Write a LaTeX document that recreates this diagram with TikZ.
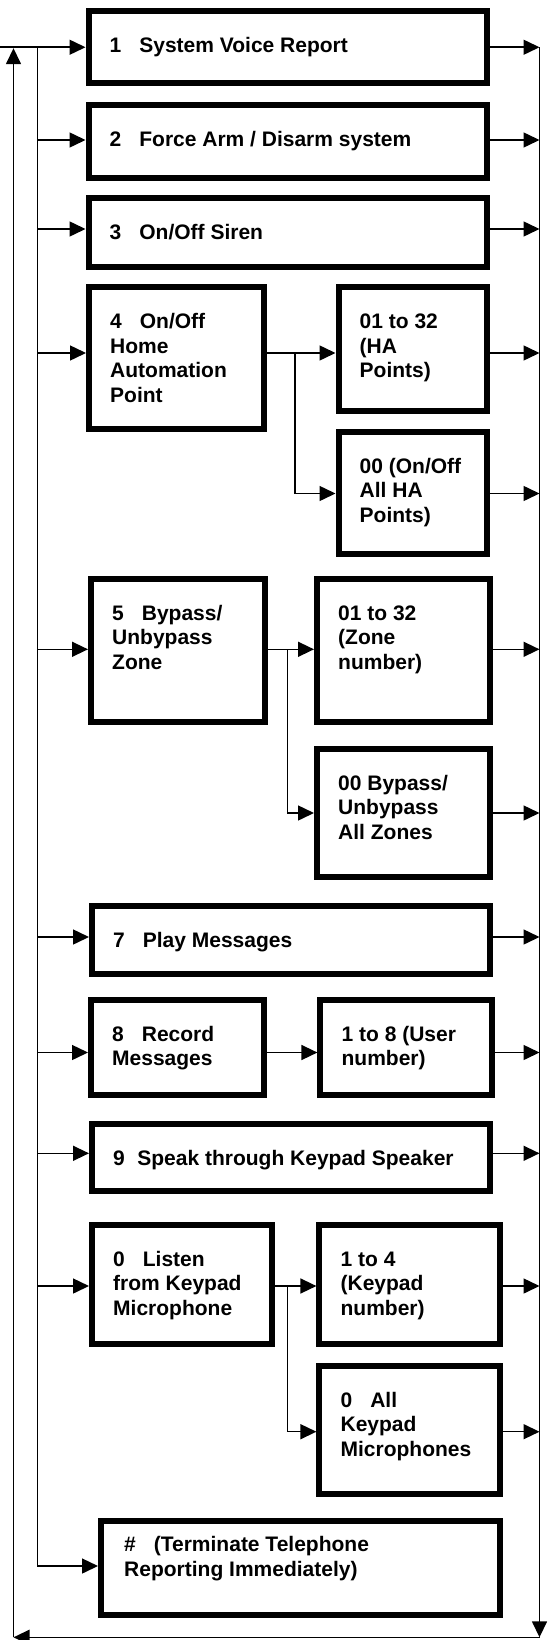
\documentclass[tikz,border=0pt]{standalone}
\usepackage{fontspec}
\setmainfont{Liberation Sans}
\usetikzlibrary{arrows.meta}
\tikzset{
  box/.style={draw, line width=6pt, rectangle, inner sep=0pt, fill=white},
  lbl/.style={inner sep=0pt, anchor=base west, font=\bfseries\fontsize{21pt}{24.6pt}\selectfont},
  conn/.style={line width=1.5pt},
  arr/.style={line width=1.5pt, -{Triangle[length=16pt,width=15pt]}}
}
\newcommand\mkbox[5]{\node[box, minimum width={#4-#2-6}, minimum height={#5-#3-6}] (#1) at ({(#2+#4)/2},{(#3+#5)/2}) {};}
\newcommand\mktext[5]{\node[lbl] (#1) at ([xshift=#3pt, yshift=-#4pt]#2.north west) {\begin{tabular}[t]{@{}l@{}}#5\end{tabular}};}
\begin{document}
\begin{tikzpicture}[x=1pt,y=-1pt]
\useasboundingbox (0,0) rectangle (550,1640);
% boxes
\mkbox{b1}{85.5}{8.5}{490}{86}
\mkbox{b2}{85.5}{102}{490}{181}
\mkbox{b3}{85.5}{195}{490}{269.5}
\mkbox{b4}{86}{284}{267}{431.7}
\mkbox{b4a}{335.5}{284}{490}{413.5}
\mkbox{b4b}{335.5}{428.5}{490}{557}
\mkbox{b5}{88}{575.7}{267.5}{725}
\mkbox{b5a}{314}{575.7}{493}{725}
\mkbox{b5b}{314}{745.7}{493}{880}
\mkbox{b7}{89}{902.7}{493}{976.7}
\mkbox{b8}{88}{996.7}{266.6}{1098.3}
\mkbox{b8a}{317.4}{996.7}{495.3}{1098.3}
\mkbox{b9}{89}{1120.7}{493}{1194.3}
\mkbox{b0}{89}{1221.7}{275.3}{1346.7}
\mkbox{b0a}{316.4}{1221.7}{502.6}{1346.7}
\mkbox{b0b}{316.4}{1362.7}{502.6}{1496.7}
\mkbox{bh}{98}{1518.3}{503.3}{1618.3}
% texts
\mktext{t1}{b1}{24}{44.5}{1\hspace{18pt}System Voice Report}
\mktext{t2}{b2}{24}{44.5}{2\hspace{18pt}Force Arm / Disarm system}
\mktext{t3}{b3}{24}{44.5}{3\hspace{18pt}On/Off Siren}
\mktext{t4}{b4}{24}{44.5}{4\hspace{18pt}On/Off\\Home\\Automation\\Point}
\mktext{t4a}{b4a}{24}{44.5}{01 to 32\\(HA\\Points)}
\mktext{t4b}{b4b}{24}{44.5}{00 (On/Off\\All HA\\Points)}
\mktext{t5}{b5}{24}{44.5}{5\hspace{18pt}Bypass/\\Unbypass\\Zone}
\mktext{t5a}{b5a}{24}{44.5}{01 to 32\\(Zone\\number)}
\mktext{t5b}{b5b}{24}{44.5}{00 Bypass/\\Unbypass\\All Zones}
\mktext{t7}{b7}{24}{44.5}{7\hspace{18pt}Play Messages}
\mktext{t8}{b8}{24}{44.5}{8\hspace{18pt}Record\\Messages}
\mktext{t8a}{b8a}{24}{44.5}{1 to 8 (User\\number)}
\mktext{t9}{b9}{24}{44.5}{9\hspace{12.5pt}Speak through Keypad Speaker}
\mktext{t0}{b0}{24}{44.5}{0\hspace{18pt}Listen\\from Keypad\\Microphone}
\mktext{t0a}{b0a}{24}{44.5}{1 to 4\\(Keypad\\number)}
\mktext{t0b}{b0b}{24}{44.5}{0\hspace{18pt}All\\Keypad\\Microphones}
\mktext{th}{bh}{26}{33.4}{\#\hspace{18pt}(Terminate Telephone\\Reporting Immediately)}
% coordinates
\coordinate (start) at (0,47.25);
\coordinate (bustop) at (37.5,47.25);
\coordinate (rtop) at (539.5,47.25);
\coordinate (rbot) at (539.5,1637.3);
\coordinate (lbot) at (13.5,1637.3);
\coordinate (ltop) at (13.5,48.2);
\coordinate (r2) at (0,140);
\coordinate (r3) at (0,229);
\coordinate (k4) at (295,353);
\coordinate (r4b) at (0,493.5);
\coordinate (k5) at (287.6,649.3);
\coordinate (r5b) at (0,813);
\coordinate (r7) at (0,937);
\coordinate (r8) at (0,1052.5);
\coordinate (r9) at (0,1153.3);
\coordinate (k0) at (287.6,1286);
\coordinate (r0b) at (0,1431.7);
\coordinate (rh) at (0,1566);
% outer loop
\draw[arr] (start) -- (b1.west);
\draw[arr] (rtop) -- (rbot);
\draw[arr] (rbot) -- (lbot);
\draw[arr] (lbot) -- (ltop);
% bus
\draw[arr] (bustop) |- (bh.west |- rh);
\draw[arr] (bustop |- r2) -- (b2.west |- r2);
\draw[arr] (bustop |- r3) -- (b3.west |- r3);
\draw[arr] (bustop |- k4) -- (b4.west |- k4);
\draw[arr] (bustop |- k5) -- (b5.west |- k5);
\draw[arr] (bustop |- r7) -- (b7.west |- r7);
\draw[arr] (bustop |- r8) -- (b8.west |- r8);
\draw[arr] (bustop |- r9) -- (b9.west |- r9);
\draw[arr] (bustop |- k0) -- (b0.west |- k0);
% branches
\draw[conn] (b4.east |- k4) -- (k4);
\draw[arr] (k4) -- (b4a.west |- k4);
\draw[arr] (k4) |- (b4b.west |- r4b);
\draw[conn] (b5.east |- k5) -- (k5);
\draw[arr] (k5) -- (b5a.west |- k5);
\draw[arr] (k5) |- (b5b.west |- r5b);
\draw[arr] (b8.east |- r8) -- (b8a.west |- r8);
\draw[conn] (b0.east |- k0) -- (k0);
\draw[arr] (k0) -- (b0a.west |- k0);
\draw[arr] (k0) |- (b0b.west |- r0b);
% right arrows
\draw[arr] (b1.east) -- (rtop |- b1.east);
\draw[arr] (b2.east |- r2) -- (rtop |- r2);
\draw[arr] (b3.east |- r3) -- (rtop |- r3);
\draw[arr] (b4a.east |- k4) -- (rtop |- k4);
\draw[arr] (b4b.east |- r4b) -- (rtop |- r4b);
\draw[arr] (b5a.east |- k5) -- (rtop |- k5);
\draw[arr] (b5b.east |- r5b) -- (rtop |- r5b);
\draw[arr] (b7.east |- r7) -- (rtop |- r7);
\draw[arr] (b8a.east |- r8) -- (rtop |- r8);
\draw[arr] (b9.east |- r9) -- (rtop |- r9);
\draw[arr] (b0a.east |- k0) -- (rtop |- k0);
\draw[arr] (b0b.east |- r0b) -- (rtop |- r0b);
\end{tikzpicture}
\end{document}
